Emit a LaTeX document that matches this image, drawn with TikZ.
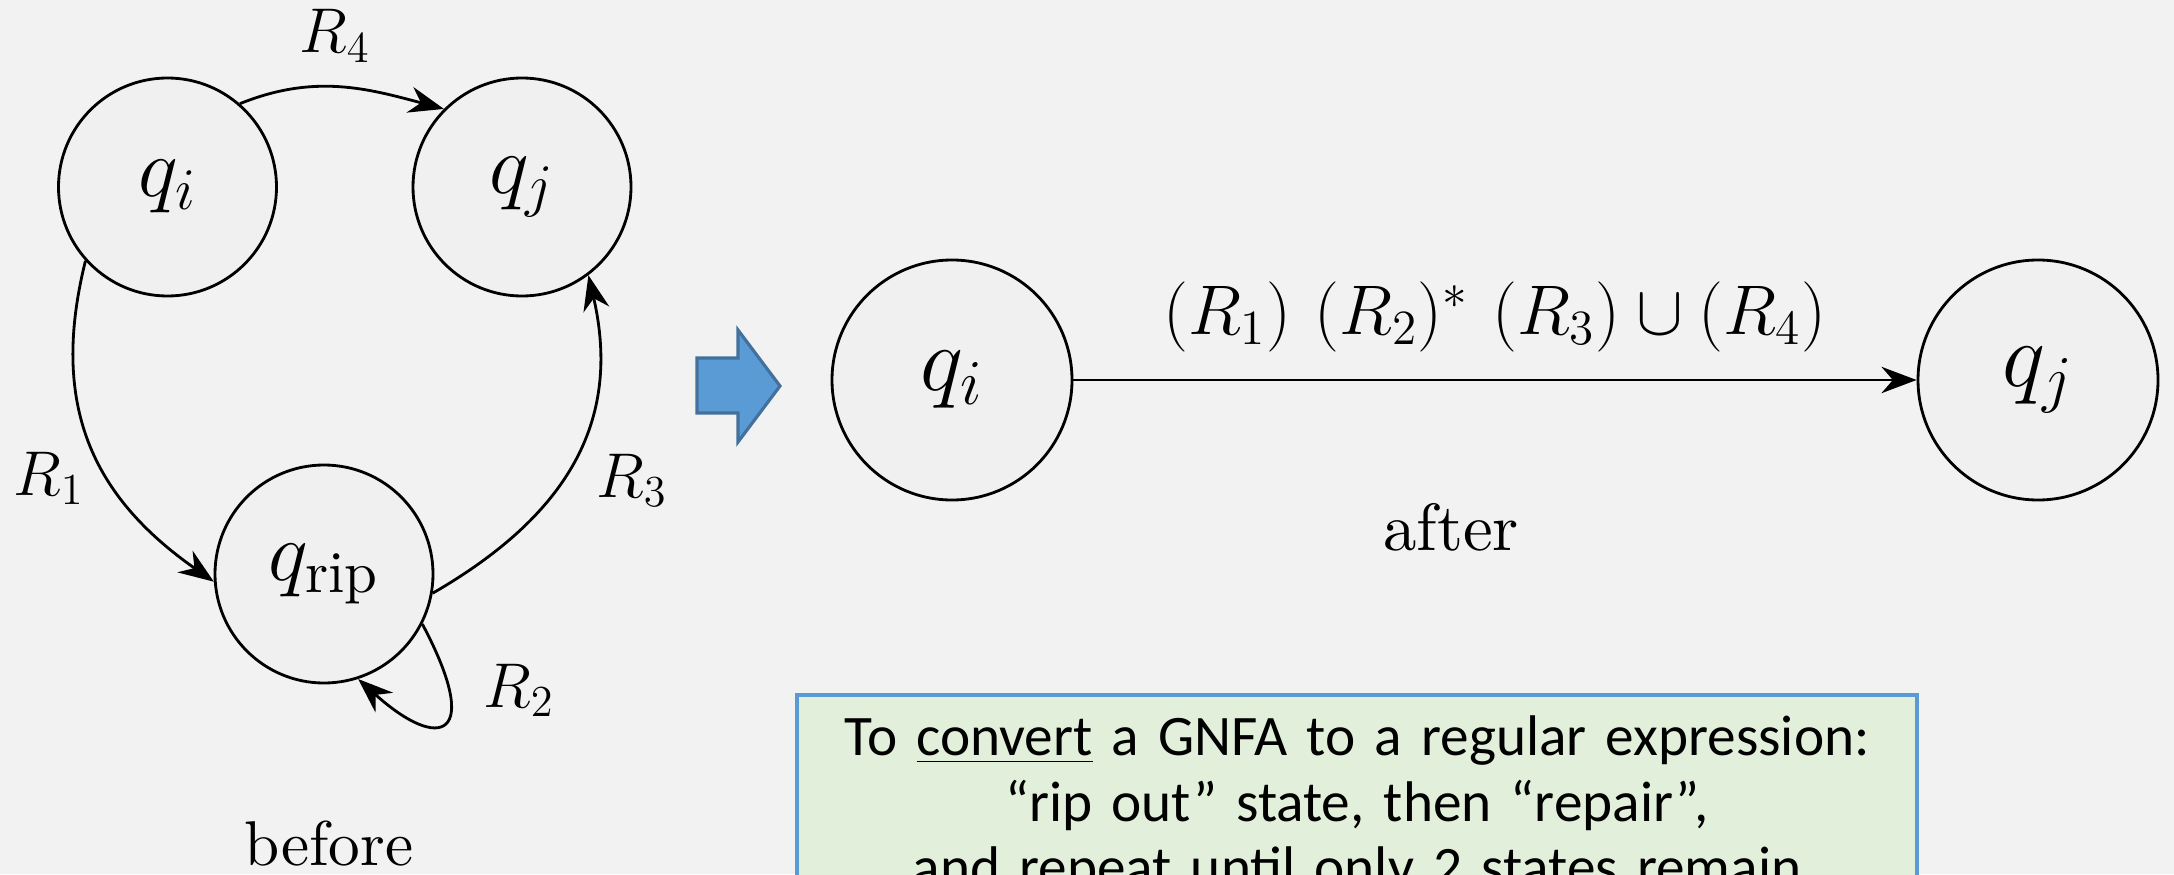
\RequirePackage{fix-cm}
\documentclass[tikz,border=0pt]{standalone}
\usepackage{fontspec}
\setmainfont{lmroman10-regular}[Extension=.otf]
\newfontfamily\notefont{Carlito}
\usetikzlibrary{arrows.meta}
\definecolor{slidebg}{HTML}{F2F2F2}
\definecolor{statefill}{HTML}{F0F0F0}
\definecolor{arrowblue}{HTML}{5B9BD5}
\definecolor{arrowedge}{HTML}{41719C}
\definecolor{notefill}{HTML}{E2EFDA}
\definecolor{noteedge}{HTML}{5B9BD5}
\tikzset{
  state/.style={circle,draw,line width=0.8pt,fill=statefill,minimum size=2.18cm,inner sep=0pt,font=\fontsize{24}{26}\selectfont},
  bigstate/.style={state,minimum size=2.4cm,font=\fontsize{26}{28}\selectfont},
  trans/.style={-{Stealth[length=10pt,width=7.5pt]},line width=0.8pt},
  lbl/.style={anchor=base,inner sep=0pt,font=\fontsize{18}{20}\selectfont},
  notebox/.style={draw=noteedge,line width=1.2pt,fill=notefill,anchor=north,text width=11.2cm,
    inner xsep=0pt,inner ysep=6pt,align=center,font=\notefont\fontsize{16.3}{18.5}\selectfont},
}
\begin{document}
\begin{tikzpicture}
\clip (0,0) rectangle (21.74,8.74);
\fill[slidebg] (0,0) rectangle (21.74,8.74);
% before: three states
\node[state] (qi) at (1.675,6.87) {$q_i$};
\node[state] (qj) at (5.22,6.87) {$q_j$};
\node[state] (rip) at (3.24,3.00) {$q_{\mathrm{rip}}$};
\draw[trans] (qi.49) to[out=22,in=165] (qj.135);
\draw[trans] (qi.222) to[out=256,in=145,looseness=1.1] (rip.184);
\draw[trans] (rip.-10) to[out=30,in=-77,looseness=1.1] (qj.-53);
\draw[trans] (rip.-27) to[out=-62,in=-42,out distance=1.3cm,in distance=1.1cm] (rip.-72);
\node[lbl] (r4) at (3.35,8.21) {$R_4$};
\node[lbl] (r1) at (0.49,3.79) {$R_1$};
\node[lbl] (r3) at (6.32,3.77) {$R_3$};
\node[lbl] (r2) at (5.19,1.67) {$R_2$};
\node[lbl] (before) at (3.29,0.09) {before};
% big blue arrow
\filldraw[fill=arrowblue,draw=arrowedge,line width=0.9pt]
  (6.97,5.16) -- (7.38,5.16) -- (7.38,5.44) -- (7.80,4.88) -- (7.38,4.32) -- (7.38,4.61) -- (6.97,4.61) -- cycle;
% after: two states
\node[bigstate] (qi2) at (9.52,4.94) {$q_i$};
\node[bigstate] (qj2) at (20.38,4.94) {$q_j$};
\draw[trans] (qi2) -- node[above=0.27cm,inner sep=0pt,font=\fontsize{20}{22}\selectfont] (expr)
  {$(R_1)\ (R_2)^*\ (R_3)\cup(R_4)$} (qj2);
\node[lbl,font=\fontsize{19}{21}\selectfont] (after) at (14.51,3.24) {after};
% note
\node[notebox] (note) at (13.57,1.81) {To \underline{convert} a GNFA to a regular expression:\\
  “rip out” state, then “repair”,\\
  and repeat until only 2 states remain};
\end{tikzpicture}
\end{document}
